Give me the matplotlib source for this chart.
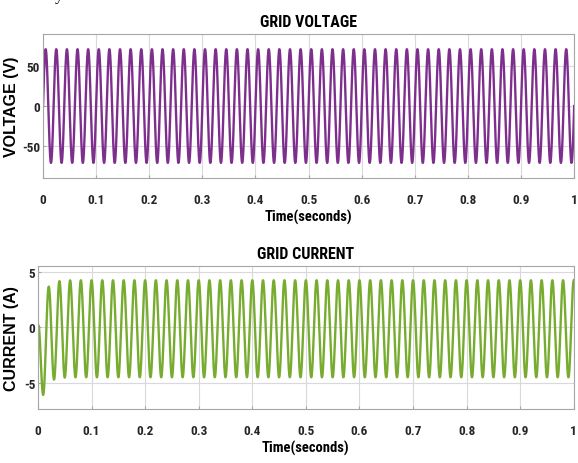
import numpy as np
import matplotlib
matplotlib.use("Agg")
import matplotlib.pyplot as plt
from matplotlib import font_manager

# Grid signals (simulation parameters)
T_END = 1.0
DT = 1e-4
FREQ_HZ = 50.0

V_PEAK = 71.0          # grid voltage peak (V)

I_PEAK = 4.34          # steady-state current peak (A)
I_OFFSET = -0.12       # small dc shift of the current (A)
I_TAU = 0.01           # decay of the start-up transient (s)

V_LIM = (-90, 90)
I_LIM = (-7.3, 5.5)
X_TICKS = [0, 0.1, 0.2, 0.3, 0.4, 0.5, 0.6, 0.7, 0.8, 0.9, 1]
X_TICKLABELS = ["0", "0.1", "0.2", "0.3", "0.4", "0.5", "0.6", "0.7", "0.8", "0.9", "1"]
V_TICKS = [-50, 0, 50]
I_TICKS = [-5, 0, 5]

V_COLOR = "#7E2F8E"
I_COLOR = "#77AC30"

plt.rcParams["axes.unicode_minus"] = False

# narrow face for ticks and titles, if one is installed
_entries = font_manager.fontManager.ttflist
_names = {f.name for f in _entries}
NARROW = None
for cand in ["Liberation Sans Narrow", "Arial Narrow", "Roboto Condensed",
             "Open Sans Condensed", "DejaVu Sans Condensed", "Noto Sans Condensed"]:
    if cand in _names:
        NARROW = cand
        break
STRETCH = "normal"
if NARROW is None:
    cond = [f.name for f in _entries
            if str(f.stretch) in ("condensed", "semi-condensed", "extra-condensed")
            and "Mono" not in f.name and "Serif" not in f.name]
    NARROW = cond[0] if cond else "DejaVu Sans"
    STRETCH = "condensed"
NARROW_FAM = [NARROW, "DejaVu Sans"]
WIDE = ["Liberation Sans", "DejaVu Sans"]

t = np.arange(0, T_END + DT, DT)
w = 2 * np.pi * FREQ_HZ
v_grid = V_PEAK * np.sin(w * t)
i_grid = I_PEAK * (np.cos(w * t) - np.exp(-t / I_TAU)) + I_OFFSET * (1 - np.exp(-t / I_TAU))

fig = plt.figure(figsize=(5.78, 4.64), dpi=100)
ax_v = fig.add_axes([0.0744, 0.614, 0.919, 0.3106])
ax_i = fig.add_axes([0.0657, 0.1164, 0.927, 0.3082])


def style(ax, yticks, ylim, ylabel, title, color, y, label_x):
    ax.plot(t, y, color=color, linewidth=1.7)
    ax.set_xlim(0, 1)
    ax.set_ylim(*ylim)
    ax.set_xticks(X_TICKS)
    ax.set_xticklabels(X_TICKLABELS)
    ax.set_yticks(yticks)
    ax.grid(True, color="#d9d9d9", linewidth=0.8)
    ax.set_axisbelow(True)
    for s in ax.spines.values():
        s.set_color("#a6a6a6")
        s.set_linewidth(0.8)
    ax.tick_params(axis="x", direction="in", length=2, color="#a6a6a6", pad=11)
    ax.tick_params(axis="y", direction="in", length=2, color="#a6a6a6", pad=2)
    for lbl in ax.get_xticklabels() + ax.get_yticklabels():
        lbl.set_family(NARROW_FAM)
        lbl.set_fontstretch(STRETCH)
        lbl.set_fontweight("semibold")
        lbl.set_fontsize(9.5)
        lbl.set_color("#262626")
    ax.set_title(title, family=NARROW_FAM, fontstretch=STRETCH, fontweight="bold",
                 fontsize=11.5, pad=6)
    ax.set_xlabel("Time(seconds)", family=NARROW_FAM, fontstretch=STRETCH,
                  fontweight="semibold", fontsize=10.5, labelpad=2)
    ax.set_ylabel(ylabel, family=WIDE, fontweight="bold", fontsize=11.5)
    ax.yaxis.set_label_coords(label_x, 0.5)


style(ax_v, V_TICKS, V_LIM, "VOLTAGE (V)", "GRID VOLTAGE", V_COLOR, v_grid, -0.045)
style(ax_i, I_TICKS, I_LIM, "CURRENT (A)", "GRID CURRENT", I_COLOR, i_grid, -0.036)

# clipped caption fragment above the figure
fig.text(0.095, 1.0, "y", family=["Liberation Serif", "DejaVu Serif"], fontsize=12,
         va="baseline", ha="left")

fig.savefig("out.png", dpi=100)
